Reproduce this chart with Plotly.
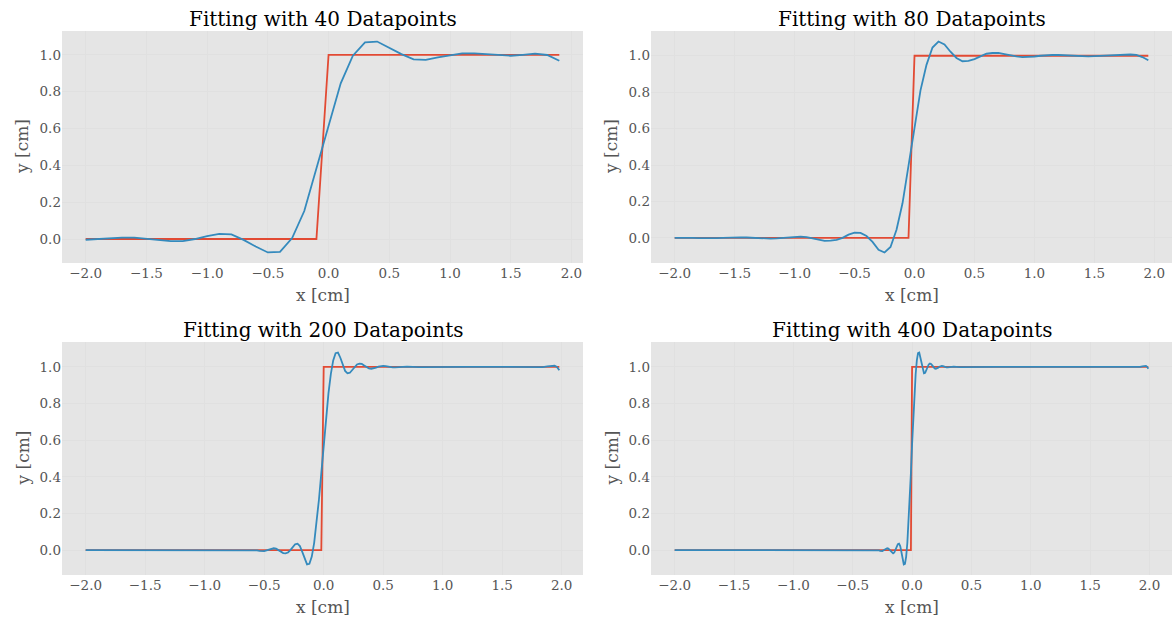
import numpy as np
import plotly.graph_objects as go

W, H = 1173, 617

# ---------------- data ----------------
titles = ["Fitting with 40 Datapoints", "Fitting with 80 Datapoints",
          "Fitting with 200 Datapoints", "Fitting with 400 Datapoints"]
x_ticks = [-2.0, -1.5, -1.0, -0.5, 0.0, 0.5, 1.0, 1.5, 2.0]
y_ticks = [0.0, 0.2, 0.4, 0.6, 0.8, 1.0]

# 40 datapoints (grid step 0.1)
x40 = np.round(np.arange(-2.0, 2.0, 0.1), 2)
fit40 = [-0.004, 0.0, 0.003, 0.007, 0.007, 0.002, -0.005, -0.011, -0.011, 0.0,
         0.016, 0.028, 0.025, -0.005, -0.041, -0.073, -0.070, 0.005, 0.152, 0.38,
         0.62, 0.845, 0.995, 1.068, 1.072, 1.038, 1.004, 0.975, 0.973, 0.986,
         0.999, 1.008, 1.008, 1.003, 0.996, 0.995, 1.0, 1.006, 0.999, 0.968]
step40_x = [-2.0, -0.1, 0.0, 1.9]
step40_y = [0, 0, 1, 1]

# 80 datapoints (grid step 0.05)
x80 = np.round(np.arange(-2.0, 2.0, 0.05), 3)
fit80 = [0.0, 0.001, 0.001, 0.0, -0.001, -0.002, -0.002, -0.001, 0.0, 0.002,
         0.003, 0.003, 0.002, 0.0, -0.002, -0.004, -0.004, -0.003, 0.0, 0.004,
         0.007, 0.007, 0.004, -0.002, -0.009, -0.016, -0.015, -0.011, 0.0, 0.018,
         0.029, 0.027, 0.010, -0.022, -0.065, -0.080, -0.050, 0.045, 0.19, 0.40,
         0.60, 0.81, 0.95, 1.045, 1.078, 1.062, 1.022, 0.988, 0.970, 0.972,
         0.982, 0.998, 1.011, 1.015, 1.016, 1.009, 1.002, 0.996, 0.993, 0.993,
         0.996, 1.0, 1.003, 1.004, 1.004, 1.002, 1.0, 0.998, 0.997, 0.997,
         0.998, 1.0, 1.001, 1.002, 1.004, 1.006, 1.007, 1.005, 0.993, 0.975]
step80_x = [-2.0, -0.05, 0.0, 1.95]
step80_y = [0, 0, 1, 1]

# 200 datapoints (read at visible vertices)
x200 = [-2.0, -1.6, -1.2, -1.0, -0.9, -0.8, -0.7,
        -0.64, -0.62, -0.60, -0.58, -0.56, -0.54, -0.52, -0.50, -0.48, -0.46,
        -0.44, -0.42, -0.40, -0.38, -0.36, -0.34, -0.32, -0.30, -0.28, -0.26,
        -0.24, -0.22, -0.20, -0.18, -0.16, -0.14, -0.12, -0.10, -0.08, -0.06,
        -0.04, -0.02,
        0.0, 0.02, 0.04, 0.06, 0.08, 0.10, 0.12, 0.14, 0.16, 0.18,
        0.20, 0.22, 0.24, 0.26, 0.28, 0.30, 0.32, 0.34, 0.36, 0.38,
        0.40, 0.42, 0.44, 0.46, 0.48, 0.50, 0.52, 0.54, 0.56, 0.58, 0.60, 0.62,
        0.7, 0.8, 0.9, 1.0, 1.2, 1.4, 1.6, 1.7, 1.8, 1.84, 1.88, 1.92, 1.94, 1.96, 1.98]
fit200 = [0.0, 0.0, 0.0, 0.0, 0.0, 0.001, -0.001,
          0.002, 0.003, 0.003, 0.002, -0.001, -0.004, -0.005, -0.005, -0.001, 0.004,
          0.009, 0.010, 0.008, 0.001, -0.008, -0.016, -0.018, -0.013, 0.0, 0.017,
          0.032, 0.035, 0.022, -0.010, -0.050, -0.078, -0.075, -0.035, 0.04, 0.145,
          0.275, 0.42,
          0.58, 0.725, 0.855, 0.96, 1.035, 1.075, 1.078, 1.05, 1.01, 0.978,
          0.965, 0.968, 0.983, 1.0, 1.013, 1.018, 1.016, 1.008, 0.999, 0.992,
          0.99, 0.991, 0.996, 1.001, 1.005, 1.005, 1.004, 1.001, 0.998, 0.997, 0.997, 0.998,
          1.001, 0.999, 1.0, 1.0, 1.0, 1.0, 1.0, 0.998, 0.997, 0.999, 1.003, 1.006, 1.006, 1.0, 0.982]
step200_x = [-2.0, -0.02, 0.0, 1.98]
step200_y = [0, 0, 1, 1]

# 400 datapoints (read at visible vertices)
x400 = [-2.0, -1.5, -1.0, -0.7, -0.5, -0.4, -0.35,
        -0.32, -0.31, -0.30, -0.29, -0.28, -0.27, -0.26, -0.25, -0.24, -0.23,
        -0.22, -0.21, -0.20, -0.19, -0.18, -0.17, -0.16, -0.15, -0.14, -0.13,
        -0.12, -0.11, -0.10, -0.09, -0.08, -0.07, -0.06, -0.05, -0.04, -0.03,
        -0.02, -0.01,
        0.0, 0.01, 0.02, 0.03, 0.04, 0.05, 0.06, 0.07, 0.08, 0.09,
        0.10, 0.11, 0.12, 0.13, 0.14, 0.15, 0.16, 0.17, 0.18, 0.19,
        0.20, 0.21, 0.22, 0.23, 0.24, 0.25, 0.26, 0.27, 0.28, 0.29, 0.30, 0.31,
        0.35, 0.4, 0.5, 0.7, 1.0, 1.4, 1.8, 1.9, 1.92, 1.94, 1.96, 1.97, 1.98, 1.99]
fit400 = [0.0, 0.0, 0.0, 0.0, 0.0, 0.001, -0.001,
          0.002, 0.003, 0.003, 0.002, -0.001, -0.004, -0.005, -0.005, -0.001, 0.004,
          0.009, 0.010, 0.008, 0.001, -0.008, -0.016, -0.018, -0.013, 0.0, 0.017,
          0.032, 0.035, 0.022, -0.010, -0.050, -0.078, -0.075, -0.035, 0.04, 0.145,
          0.275, 0.42,
          0.58, 0.725, 0.855, 0.96, 1.035, 1.075, 1.078, 1.05, 1.01, 0.978,
          0.965, 0.968, 0.983, 1.0, 1.013, 1.018, 1.016, 1.008, 0.999, 0.992,
          0.99, 0.991, 0.996, 1.001, 1.005, 1.005, 1.004, 1.001, 0.998, 0.997, 0.997, 0.998,
          1.001, 0.999, 1.0, 1.0, 1.0, 1.0, 1.0, 0.998, 1.0, 1.003, 1.006, 1.005, 1.0, 0.99]
step400_x = [-2.0, -0.01, 0.0, 1.99]
step400_y = [0, 0, 1, 1]

panels = [
    (x40, fit40, step40_x, step40_y),
    (x80, fit80, step80_x, step80_y),
    (x200, fit200, step200_x, step200_y),
    (x400, fit400, step400_x, step400_y),
]

# ---------------- layout geometry (pixels) ----------------
col_px = [(62, 583), (651, 1172)]
row_px = [(31, 263), (342, 575)]

RED = "#E24A33"
BLUE = "#348ABD"
BG = "#E5E5E5"
GRID = "#E0E0E0"
FONT = "DejaVu Serif, serif"

fig = go.Figure()
annotations = []
layout_axes = {}

for i, (xf, yf, sx, sy) in enumerate(panels):
    r, c = divmod(i, 2)
    n = i + 1
    xa = "x" if n == 1 else f"x{n}"
    ya = "y" if n == 1 else f"y{n}"
    fig.add_trace(go.Scatter(x=sx, y=sy, mode="lines", line=dict(color=RED, width=1.8),
                             xaxis=xa, yaxis=ya, showlegend=False, hoverinfo="skip"))
    fig.add_trace(go.Scatter(x=xf, y=yf, mode="lines", line=dict(color=BLUE, width=1.8),
                             xaxis=xa, yaxis=ya, showlegend=False))
    x0p, x1p = col_px[c]
    y0p, y1p = row_px[r]
    xdom = [x0p / W, x1p / W]
    ydom = [1 - y1p / H, 1 - y0p / H]
    allx = list(xf) + list(sx)
    ally = list(yf) + list(sy)
    xmin, xmax = min(allx), max(allx)
    ymin, ymax = min(ally), max(ally)
    xm = 0.05 * (xmax - xmin)
    ym = 0.05 * (ymax - ymin)
    common = dict(showgrid=True, gridcolor=GRID, gridwidth=1, zeroline=False,
                  showline=False, ticks="", tickfont=dict(family=FONT, size=13.5, color="#555555"))
    layout_axes["xaxis" if n == 1 else f"xaxis{n}"] = dict(
        domain=xdom, range=[xmin - xm, xmax + xm], anchor=ya,
        tickvals=x_ticks, tickformat=".1f", **common)
    layout_axes["yaxis" if n == 1 else f"yaxis{n}"] = dict(
        domain=ydom, range=[ymin - ym, ymax + ym], anchor=xa,
        tickvals=y_ticks, tickformat=".1f", **common)
    # title
    cx = (x0p + x1p) / 2 / W
    annotations.append(dict(text=titles[i], x=cx, y=1 - (y0p - 12) / H, xref="paper", yref="paper",
                            xanchor="center", yanchor="middle", showarrow=False,
                            font=dict(family=FONT, size=20, color="#000000")))
    annotations.append(dict(text="x [cm]", x=cx, y=1 - (y1p + 32) / H, xref="paper", yref="paper",
                            xanchor="center", yanchor="middle", showarrow=False,
                            font=dict(family=FONT, size=17, color="#555555")))
    annotations.append(dict(text="y [cm]", x=(x0p - 40) / W, y=1 - (y0p + y1p) / 2 / H,
                            xref="paper", yref="paper", textangle=-90,
                            xanchor="center", yanchor="middle", showarrow=False,
                            font=dict(family=FONT, size=17, color="#555555")))

fig.update_layout(width=W, height=H, margin=dict(l=0, r=0, t=0, b=0),
                  paper_bgcolor="white", plot_bgcolor=BG,
                  annotations=annotations, **layout_axes)

fig.write_html("out.html", config={"displayModeBar": False},
               post_script="document.body.style.margin='0';document.body.style.padding='0';")
